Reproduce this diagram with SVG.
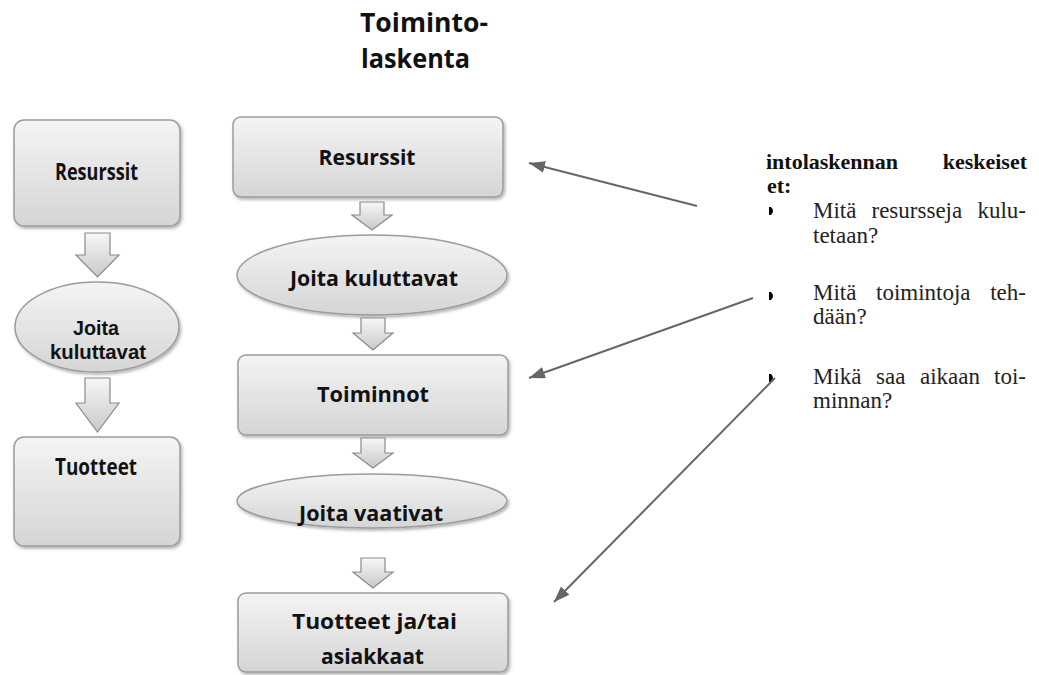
<svg xmlns="http://www.w3.org/2000/svg" width="1039" height="675" viewBox="0 0 1039 675">
  <style>
    .shape { fill: url(#shade); stroke: #9c9c9c; stroke-width: 1.5; filter: url(#soft); }
    .flow { fill: url(#arrowShade); stroke: #8a8a8a; stroke-width: 1.2; }
    .lbl { font-family: "Open Sans", "Liberation Sans", sans-serif; font-weight: bold; fill: #111; text-anchor: middle; }
    .lbl-m { font-size: 22px; }
    .lbl-s { font-size: 23px; }
    .lbl-e { font-family: "Liberation Sans", "Open Sans", sans-serif; font-size: 20px; }
    .title { font-family: "Open Sans", "Liberation Sans", sans-serif; font-weight: bold; font-size: 27px; fill: #111; }
    .note { font-family: "Liberation Serif", "Times New Roman", serif; font-size: 23px; fill: #222; }
    .note-b { font-family: "Liberation Serif", "Times New Roman", serif; font-size: 22px; font-weight: bold; fill: #111; }
    .link { stroke: #666; stroke-width: 2; fill: none; marker-end: url(#tip); }
  </style>
  <defs>
    <linearGradient id="shade" x1="0" y1="0" x2="0" y2="1">
      <stop offset="0" stop-color="#f4f4f4"/>
      <stop offset="1" stop-color="#d5d5d5"/>
    </linearGradient>
    <linearGradient id="arrowShade" x1="0" y1="0" x2="0" y2="1">
      <stop offset="0" stop-color="#f7f7f7"/>
      <stop offset="1" stop-color="#c9c9c9"/>
    </linearGradient>
    <filter id="soft" x="-10%" y="-10%" width="125%" height="130%">
      <feDropShadow dx="1.5" dy="2" stdDeviation="1.5" flood-color="#000" flood-opacity="0.3"/>
    </filter>
    <marker id="tip" markerUnits="userSpaceOnUse" markerWidth="18" markerHeight="14" refX="16" refY="6" orient="auto">
      <path d="M0,0 L16,6 L0,12 Z" fill="#666"/>
    </marker>
  </defs>

  <!-- heading -->
  <g id="title">
    <text class="title" x="360" y="32" textLength="128" lengthAdjust="spacingAndGlyphs">Toiminto-</text>
    <text class="title" x="361" y="68" textLength="109" lengthAdjust="spacingAndGlyphs">laskenta</text>
  </g>

  <!-- short chain on the left -->
  <g id="left-resurssit">
    <rect class="shape" x="14" y="120" width="166" height="106" rx="10"/>
    <text class="lbl lbl-s" x="96.5" y="180" textLength="83" lengthAdjust="spacingAndGlyphs">Resurssit</text>
  </g>
  <g id="left-arrow-1">
    <path class="flow" d="M85,233 H110 V255 H119 L97.5,277 L76,255 H85 Z"/>
  </g>
  <g id="left-kuluttavat">
    <ellipse class="shape" cx="97" cy="327" rx="82" ry="45"/>
    <text class="lbl lbl-e" x="96" y="335" textLength="46" lengthAdjust="spacingAndGlyphs">Joita</text>
    <text class="lbl lbl-e" x="98" y="359" textLength="96" lengthAdjust="spacingAndGlyphs">kuluttavat</text>
  </g>
  <g id="left-arrow-2">
    <path class="flow" d="M85,378 H110 V403 H119 L97.5,432 L76,403 H85 Z"/>
  </g>
  <g id="left-tuotteet">
    <rect class="shape" x="14" y="437" width="166" height="109" rx="10"/>
    <text class="lbl lbl-s" x="96" y="475" textLength="82" lengthAdjust="spacingAndGlyphs">Tuotteet</text>
  </g>

  <!-- activity-based chain -->
  <g id="resurssit">
    <rect class="shape" x="233" y="117" width="270" height="80" rx="8"/>
    <text class="lbl lbl-m" x="367" y="165" textLength="97" lengthAdjust="spacingAndGlyphs">Resurssit</text>
  </g>
  <g id="arrow-1">
    <path class="flow" d="M360,202 H384 V215 H392 L372,230 L352,215 H360 Z"/>
  </g>
  <g id="joita-kuluttavat">
    <ellipse class="shape" cx="372" cy="275" rx="135" ry="40"/>
    <text class="lbl lbl-m" x="374" y="286" textLength="168" lengthAdjust="spacingAndGlyphs">Joita kuluttavat</text>
  </g>
  <g id="arrow-2">
    <path class="flow" d="M361,318 H385 V333 H393 L373,350 L353,333 H361 Z"/>
  </g>
  <g id="toiminnot">
    <rect class="shape" x="238" y="355" width="270" height="80" rx="8"/>
    <text class="lbl lbl-m" x="373" y="402" textLength="112" lengthAdjust="spacingAndGlyphs">Toiminnot</text>
  </g>
  <g id="arrow-3">
    <path class="flow" d="M361,438 H385 V453 H393 L373,468 L353,453 H361 Z"/>
  </g>
  <g id="joita-vaativat">
    <ellipse class="shape" cx="372" cy="501" rx="135" ry="27"/>
    <text class="lbl lbl-m" x="371" y="521" textLength="144" lengthAdjust="spacingAndGlyphs">Joita vaativat</text>
  </g>
  <g id="arrow-4">
    <path class="flow" d="M361,558 H385 V572 H393 L373,588 L353,572 H361 Z"/>
  </g>
  <g id="tuotteet-asiakkaat">
    <rect class="shape" x="238" y="593" width="270" height="79" rx="8"/>
    <text class="lbl lbl-m" x="374.5" y="629" textLength="165" lengthAdjust="spacingAndGlyphs">Tuotteet  ja/tai</text>
    <text class="lbl lbl-m" x="372.5" y="664" textLength="103" lengthAdjust="spacingAndGlyphs">asiakkaat</text>
  </g>

  <!-- questions on the right -->
  <g id="questions">
    <text class="note-b" x="766" y="169">intolaskennan</text>
    <text class="note-b" x="1027" y="169" text-anchor="end">keskeiset</text>
    <text class="note-b" x="767" y="193">et:</text>

    <path d="M769,207 H771 Q775,211 771,215 H769 Z" fill="#000"/>
    <text class="note" x="813" y="218">Mitä</text>
    <text class="note" x="871.5" y="218">resursseja</text>
    <text class="note" x="1026" y="218" text-anchor="end">kulu-</text>
    <text class="note" x="813" y="243">tetaan?</text>

    <path d="M769,292 H771 Q775,296 771,300 H769 Z" fill="#000"/>
    <text class="note" x="813" y="300">Mitä</text>
    <text class="note" x="876" y="300">toimintoja</text>
    <text class="note" x="1026" y="300" text-anchor="end">teh-</text>
    <text class="note" x="813" y="324">dään?</text>

    <path d="M769,374 H771 Q775,378 771,382 H769 Z" fill="#000"/>
    <text class="note" x="813" y="384">Mikä</text>
    <text class="note" x="876" y="384">saa</text>
    <text class="note" x="920" y="384">aikaan</text>
    <text class="note" x="1026" y="384" text-anchor="end">toi-</text>
    <text class="note" x="813" y="408">minnan?</text>
  </g>

  <!-- pointers from the questions to the chain -->
  <g id="connectors">
    <line class="link" x1="697" y1="206" x2="529" y2="163"/>
    <line class="link" x1="753" y1="298" x2="529" y2="378"/>
    <line class="link" x1="775" y1="378" x2="554" y2="602"/>
  </g>
</svg>
